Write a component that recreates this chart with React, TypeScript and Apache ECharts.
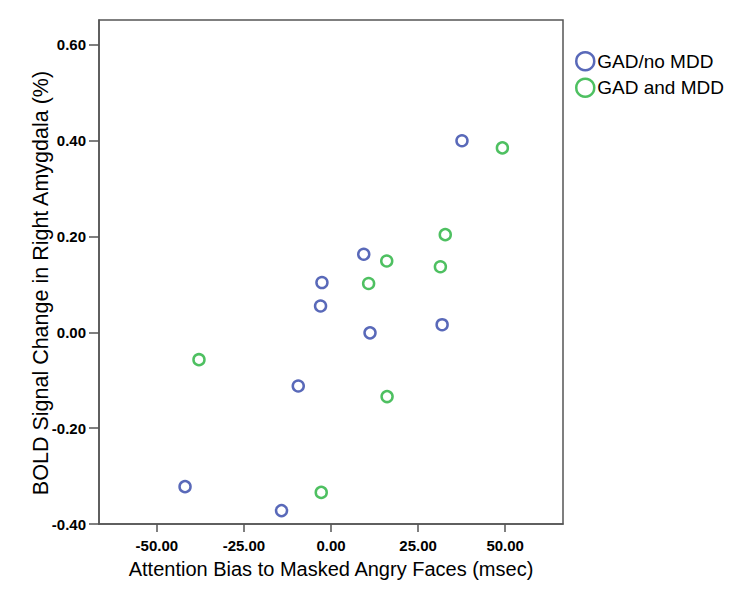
import React, { useEffect, useRef } from "react";
import * as echarts from "echarts";

const seriesNames = ["GAD/no MDD", "GAD and MDD"];
const gadNoMddX = [37.6, 9.4, -2.6, -3.0, 11.2, 31.9, -9.4, -41.9, -14.2];
const gadNoMddY = [0.400, 0.163, 0.104, 0.055, -0.001, 0.016, -0.112, -0.322, -0.372];
const gadMddX = [49.2, 32.8, 16.0, 31.4, 10.8, -37.9, 16.1, -2.8];
const gadMddY = [0.385, 0.204, 0.149, 0.137, 0.102, -0.057, -0.134, -0.334];
const xTicks = [-50, -25, 0, 25, 50];
const yTicks = [-0.4, -0.2, 0, 0.2, 0.4, 0.6];
const xTitle = "Attention Bias to Masked Angry Faces (msec)";
const yTitle = "BOLD Signal Change in Right Amygdala (%)";
const colors = ["#2f44a8", "#22b03a"];

export default function App() {
  const ref = useRef<HTMLDivElement>(null);
  useEffect(() => {
    if (!ref.current) return;
    const chart = echarts.init(ref.current, undefined, { renderer: "svg" });
    const axisColor = "#555555";
    const labelStyle = {
      fontFamily: "Liberation Sans, Arial, sans-serif",
      fontWeight: "bold" as const,
      fontSize: 15,
      color: "#000",
    };
    const mk = (xs: number[], ys: number[]) => xs.map((x, i) => [x, ys[i]]);
    chart.setOption({
      animation: false,
      backgroundColor: "#ffffff",
      grid: {
        left: 99,
        top: 20,
        width: 464,
        height: 504,
        show: true,
        borderColor: axisColor,
        borderWidth: 1.5,
        backgroundColor: "transparent",
      },
      graphic: [
        {
          type: "text",
          x: 41,
          y: 283,
          rotation: Math.PI / 2,
          style: {
            text: yTitle,
            fontFamily: "Liberation Sans, Arial, sans-serif",
            fontSize: 21.5,
            fill: "#000",
            align: "center",
            verticalAlign: "middle",
          },
        },
      ],
      legend: {
        orient: "vertical",
        left: 570,
        top: 46,
        itemWidth: 18,
        itemHeight: 18,
        itemGap: 6,
        icon: "circle",
        itemStyle: { color: "rgba(0,0,0,0)", borderWidth: 2.5 },
        textStyle: {
          fontFamily: "Liberation Sans, Arial, sans-serif",
          fontSize: 19,
          color: "#000",
          padding: [0, 0, 0, -2],
        },
        data: seriesNames,
      },
      xAxis: {
        type: "value",
        min: -66.6,
        max: 66.6,
        splitLine: { show: false },
        axisLine: { show: true, onZero: false, lineStyle: { color: axisColor, width: 1.5 } },
        axisTick: { show: true, length: 8, customValues: xTicks, lineStyle: { color: axisColor, width: 1.5 } },
        axisLabel: {
          ...labelStyle,
          margin: 14,
          customValues: xTicks,
          formatter: (v: number) => v.toFixed(2),
        },
        name: xTitle,
        nameLocation: "middle",
        nameGap: 35,
        nameMoveOverlap: false,
        nameTextStyle: {
          fontFamily: "Liberation Sans, Arial, sans-serif",
          fontSize: 20,
          color: "#000",
        },
      },
      yAxis: {
        type: "value",
        min: -0.4,
        max: 0.652,
        splitLine: { show: false },
        axisLine: { show: true, onZero: false, lineStyle: { color: axisColor, width: 1.5 } },
        axisTick: { show: true, length: 10, customValues: yTicks, lineStyle: { color: axisColor, width: 1.5 } },
        axisLabel: {
          ...labelStyle,
          margin: 13,
          customValues: yTicks,
          formatter: (v: number) => v.toFixed(2),
        },
      },
      series: [
        {
          name: seriesNames[0],
          type: "scatter",
          symbol: "circle",
          symbolSize: 11,
          itemStyle: { color: "rgba(0,0,0,0)", borderColor: colors[0], borderWidth: 2.5 },
          data: mk(gadNoMddX, gadNoMddY),
        },
        {
          name: seriesNames[1],
          type: "scatter",
          symbol: "circle",
          symbolSize: 11,
          itemStyle: { color: "rgba(0,0,0,0)", borderColor: colors[1], borderWidth: 2.5 },
          data: mk(gadMddX, gadMddY),
        },
      ],
    });
    return () => chart.dispose();
  }, []);
  return <div ref={ref} style={{ width: 750, height: 602, margin: -8 }} />;
}
